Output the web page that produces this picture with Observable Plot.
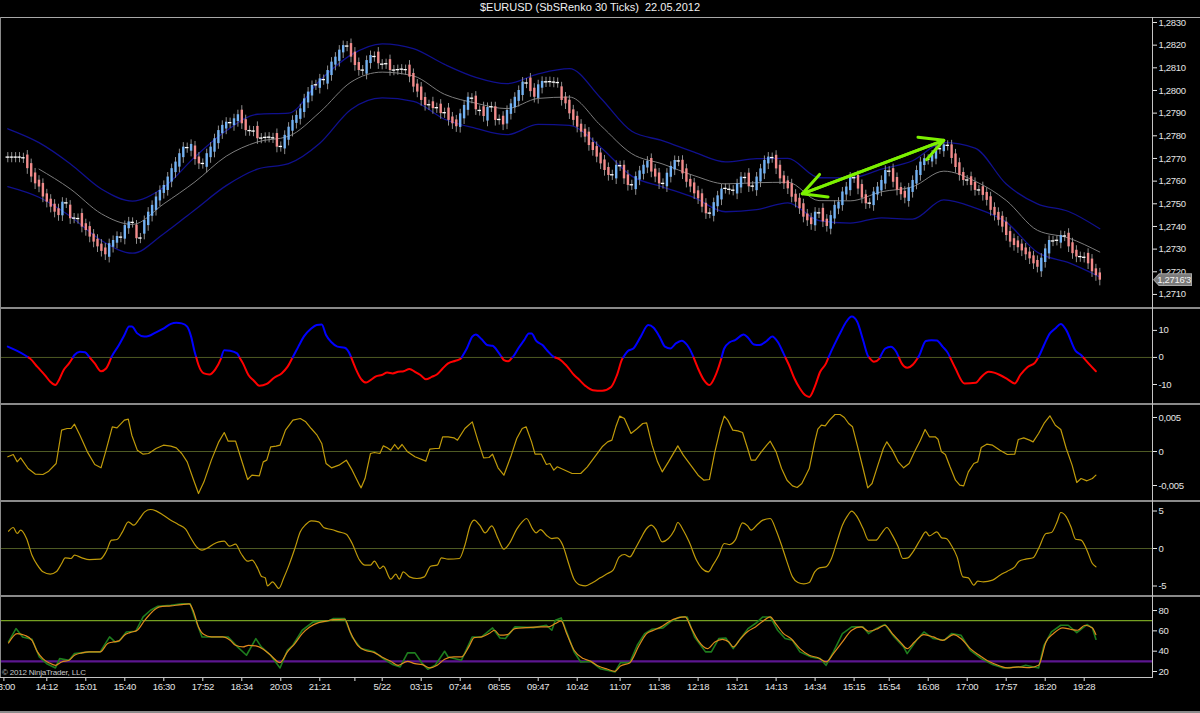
<!DOCTYPE html>
<html><head><meta charset="utf-8">
<script src="https://cdn.jsdelivr.net/npm/d3@7"></script>
<script src="https://cdn.jsdelivr.net/npm/@observablehq/plot@0.6"></script>
<style>
html,body{margin:0;padding:0;background:#000;}
#chart{position:relative;width:1200px;height:713px;background:#000;overflow:hidden;font-family:"Liberation Sans",Arial,sans-serif;}
.abs{position:absolute;}
.panel{position:absolute;left:0;}
.panel svg{display:block;}
</style></head>
<body><div id="chart"></div>
<script>
// ---------------- DATA ----------------
const title = "$EURUSD (SbSRenko 30 Ticks)  22.05.2012";
const copyright = "\u00a9 2012 NinjaTrader, LLC";
const BASE = 1.27; // closes are in pips above this price
const closes = [
70.6,70.6,70.6,70.6,70.3,65.5,61.8,58.8,57.4,53.0,
50.7,48.5,46.3,44.8,50.7,50.4,43.4,43.7,43.5,39.7,
38.2,35.3,33.1,31.0,29.0,27.5,32.4,33.8,35.6,35.3,
40.4,42.0,41.8,34.6,34.9,42.6,46.3,49.3,53.0,55.9,
58.1,61.8,65.5,68.4,72.1,75.0,74.8,76.2,69.5,67.6,
67.8,72.1,75.0,78.7,82.3,84.6,86.0,85.8,87.5,89.3,
85.3,82.3,82.3,82.1,78.7,79.0,79.3,79.4,79.1,75.0,
75.3,80.2,83.8,86.8,89.0,91.9,96.3,99.3,102.2,102.5,
105.1,104.8,108.8,112.5,114.7,117.8,119.8,119.6,114.7,111.0,
108.8,109.0,113.2,115.4,115.0,111.8,111.6,111.8,108.8,109.0,
109.2,109.4,109.2,105.9,101.5,99.3,95.6,93.4,93.7,92.0,
92.4,89.8,90.2,86.8,85.3,84.0,89.7,93.4,97.0,96.6,
91.5,91.2,88.5,92.5,92.8,86.8,87.2,84.8,91.2,94.1,
97.0,100.0,103.7,103.3,99.5,97.0,102.5,104.0,103.8,103.9,
103.7,103.5,95.6,94.1,89.7,86.8,83.8,81.6,79.4,75.7,
73.5,70.6,67.6,64.7,62.5,62.8,67.0,66.8,61.0,58.1,
58.4,62.0,64.5,67.0,68.8,64.0,61.8,58.8,59.0,63.5,
66.5,69.1,68.9,63.2,59.5,57.4,54.4,52.2,48.5,45.6,
45.9,50.5,53.5,56.5,56.8,56.4,56.0,58.8,61.8,61.6,
57.5,57.8,61.8,65.4,69.1,70.6,70.4,65.4,61.0,58.8,
56.6,52.9,50.7,47.8,44.1,42.5,40.8,46.3,46.0,42.0,
40.0,44.8,49.3,50.7,55.2,57.4,61.8,61.5,56.5,52.5,
50.0,50.3,55.2,57.4,60.3,64.7,64.4,59.5,56.0,54.0,
52.5,57.0,60.3,64.7,68.4,69.9,69.6,71.5,74.5,74.3,
76.0,75.8,70.0,66.0,62.5,60.3,60.5,58.1,55.9,56.1,
53.7,51.5,47.1,44.9,42.7,39.7,36.0,33.1,31.6,30.6,
29.2,27.5,25.7,23.5,22.0,26.0,30.1,33.8,33.6,33.9,
36.0,35.8,31.0,28.0,26.5,26.7,26.4,23.5,20.0,18.3,
16.3];
const bandBars   = [0,8,16,24,32,40,48,56,64,72,80,88,96,104,112,120,128,136,144,152,160,168,176,184,192,200,208,216,224,232,240,248,256,264,272,280];
const upperBand  = [83.1,77,67.7,56.5,51.2,57.3,70.7,82.2,89.5,90,104.4,115.7,120.6,118.5,111.5,105.8,103,107.3,109.6,96.7,82,77.8,72.8,68.5,69.9,70,61.5,61.4,65.3,69,77,74.6,58.7,50,46.6,39];
const middleBand = [null,65.3,56.6,45.6,40.9,50,59.7,71,77.3,79.8,90.4,103.7,108.1,106.4,98.3,94.4,92,96.5,97.1,84.6,72.1,67.5,62.4,58.8,59.3,59.5,51.4,51.3,55.3,57.5,64.4,60,51.5,38.3,34.9,28.7];
const lowerBand  = [57.6,52.9,44.5,33.8,28.2,36.8,47.4,58,65.3,67.7,76.7,91.6,96.7,95.2,87.3,83.3,80.5,85,84.6,75,62.2,57.4,52.7,46.5,47.4,50.4,42.6,41.5,43.8,43.2,51.7,48.2,41.9,28.6,24,17.7];
const arrowEnds = [[203.7,54.4],[240.0,78.0]]; // [bar, pips]

const cci = [[0,4.0],[2.4,2.4],[4.3,0.9],[5.7,-0.4],[7.6,-3.5],[9.5,-6.5],[10.9,-9.0],[12.2,-10.2],[13.1,-8.4],[14.3,-4.7],[15.7,-2.2],[17.1,0.9],[18.5,2.1],[19.8,1.9],[20.9,0.2],[22.3,-2.2],[23.9,-5.1],[25.2,-4.1],[26.6,0.2],[28.5,4.6],[29.9,8.3],[31.1,11.4],[31.8,11.4],[33.2,8.9],[35.0,7.7],[36.1,7.9],[38.0,9.3],[39.9,10.7],[41.8,12.4],[43.2,12.8],[44.6,12.6],[46.0,11.4],[47.0,7.7],[47.9,2.1],[48.9,-2.8],[50.3,-5.9],[51.7,-6.3],[53.2,-4.4],[54.6,-0.6],[55.5,2.7],[57.0,2.5],[58.8,1.5],[60.3,-2.2],[61.7,-6.5],[63.1,-8.6],[64.5,-10.5],[66.4,-9.8],[68.3,-7.5],[70.2,-5.9],[71.7,-3.5],[73.1,0.2],[74.5,4.0],[75.9,7.7],[77.8,10.7],[79.2,12.0],[80.5,12.2],[81.6,8.3],[83.0,5.6],[84.5,4.0],[86.4,3.6],[87.8,0.9],[89.2,-4.1],[90.6,-8.0],[91.9,-9.3],[93.0,-8.4],[94.4,-7.0],[95.9,-6.5],[97.3,-5.6],[98.7,-5.9],[100.1,-5.3],[101.5,-5.1],[103.0,-4.3],[104.4,-5.3],[105.8,-6.5],[107.2,-8.1],[108.7,-7.2],[110.1,-6.2],[111.5,-4.1],[112.9,-2.2],[114.8,-1.2],[116.2,-0.4],[117.7,3.3],[119.1,7.7],[120.0,8.5],[121.5,6.7],[122.9,4.6],[124.3,4.3],[125.7,2.1],[127.2,-1.0],[128.3,-1.4],[129.5,0.2],[131.0,3.6],[132.4,6.4],[133.6,8.9],[134.3,8.9],[135.5,6.1],[137.1,4.6],[138.4,2.4],[140.0,0.2],[141.4,-0.6],[143.3,-3.1],[145.2,-6.5],[146.2,-7.8],[148.1,-10.5],[150.0,-12.1],[152.4,-12.3],[154.7,-10.9],[156.2,-6.5],[157.6,-0.4],[159.0,2.4],[160.4,3.3],[162.3,7.7],[164.2,12.0],[165.6,11.0],[167.1,7.7],[168.5,4.0],[169.9,3.3],[171.3,5.2],[172.8,6.2],[174.2,4.6],[175.6,0.9],[177.0,-4.1],[178.5,-8.4],[179.9,-10.2],[181.3,-7.2],[182.7,-1.6],[183.7,3.3],[185.1,5.6],[186.5,6.4],[188.7,8.5],[189.8,7.3],[191.3,4.8],[192.7,4.6],[194.6,6.1],[196.0,7.7],[197.4,5.8],[198.9,1.5],[200.3,-2.8],[201.7,-7.8],[203.1,-11.5],[204.5,-14.0],[205.5,-14.6],[206.9,-10.9],[208.3,-5.3],[209.8,-2.2],[210.7,0.9],[212.1,5.2],[213.6,9.5],[215.0,13.2],[216.4,15.1],[217.8,13.2],[219.3,6.4],[220.7,0.2],[222.1,-1.6],[223.5,-0.4],[225.0,3.3],[226.4,4.0],[227.8,2.1],[229.2,-2.2],[230.6,-3.8],[232.1,-2.6],[233.5,0.2],[235.4,6.1],[236.8,6.4],[238.2,6.3],[239.7,4.0],[241.1,1.5],[243.0,-4.1],[245.3,-9.6],[248.2,-9.4],[249.6,-7.2],[251.5,-5.3],[252.9,-5.6],[254.4,-6.5],[256.3,-8.0],[258.2,-9.6],[259.6,-6.5],[261.5,-3.5],[263.4,-1.9],[264.3,0.2],[265.7,4.6],[267.2,8.9],[268.6,10.7],[270.0,12.4],[271.4,10.1],[273.8,2.4],[275.2,0.9],[277.1,-2.2],[279.0,-5.1]];

// thousandths
const osc1 = [[0,-0.78],[1.4,-0.44],[2.4,-1.52],[3.3,-0.93],[5.2,-2.5],[7.1,-3.33],[9.0,-3.38],[10.5,-2.89],[12.4,-1.76],[13.8,3.14],[15.2,3.38],[16.2,3.38],[17.1,4.02],[18.5,2.4],[20.4,-0.05],[22.3,-1.91],[23.9,-2.4],[25.2,0.2],[26.8,3.63],[28.0,3.48],[29.9,4.61],[30.9,4.76],[31.8,2.4],[33.2,0.2],[34.7,-0.39],[36.1,-0.29],[38.0,0.44],[39.9,0.93],[41.8,0.79],[43.2,0.54],[44.6,-0.29],[46.0,-1.52],[47.5,-3.97],[48.9,-6.18],[50.3,-4.46],[52.2,-1.27],[54.1,1.42],[55.5,2.79],[56.5,1.52],[58.4,1.52],[59.8,-1.03],[61.5,-4.12],[62.6,-3.48],[64.5,-3.58],[65.5,-1.52],[66.4,-1.27],[67.4,0.69],[68.8,0.79],[69.8,0.93],[71.2,3.14],[73.1,4.61],[75.0,4.85],[76.4,4.36],[77.8,3.38],[79.3,2.4],[80.5,1.18],[81.6,-1.76],[83.0,-2.4],[84.9,-2.01],[86.8,-1.27],[88.3,-2.74],[90.2,-4.95],[90.6,-5.34],[91.6,-3.97],[93.0,-0.29],[94.0,-0.15],[95.4,-0.29],[96.3,0.83],[97.3,0.54],[98.2,0.2],[99.2,1.03],[100.1,0.34],[101.1,1.03],[102.5,-0.05],[104.4,-0.78],[107.2,-1.42],[108.2,0.34],[109.6,0.44],[110.6,0.44],[111.5,2.16],[112.9,2.16],[114.4,2.01],[115.3,1.67],[117.2,3.38],[119.1,4.36],[120.5,1.67],[122.0,-0.93],[123.4,-0.88],[124.3,-0.39],[125.7,-2.4],[127.2,-3.48],[129.1,-0.54],[130.5,1.91],[131.9,3.38],[132.9,3.63],[134.3,1.42],[135.2,-0.39],[136.8,-0.39],[138.1,-1.91],[139.0,-1.76],[140.0,-2.74],[140.9,-2.25],[142.3,-2.6],[144.7,-3.23],[146.9,-3.23],[148.6,-2.25],[150.5,-0.78],[152.4,0.69],[153.8,1.42],[154.9,1.67],[155.9,3.63],[156.9,5.2],[158.1,4.85],[159.8,2.65],[161.4,3.38],[162.8,4.12],[163.8,4.22],[165.2,0.93],[166.6,-1.52],[167.8,-2.99],[169.4,-1.52],[170.9,-0.05],[171.8,0.83],[173.2,-0.54],[175.1,-2.01],[177.0,-3.48],[178.5,-4.22],[179.9,-4.12],[181.3,-0.05],[182.7,3.38],[183.7,5.2],[184.6,4.61],[185.9,3.14],[187.2,3.04],[188.4,2.79],[189.7,0.44],[190.6,-1.27],[191.7,-1.27],[193.2,-0.05],[194.6,0.93],[195.5,1.52],[197.0,-0.05],[198.4,-2.5],[199.8,-4.22],[201.2,-5.05],[202.4,-5.29],[203.6,-4.71],[205.5,-2.5],[206.9,1.42],[207.7,3.28],[208.6,3.87],[209.6,3.77],[210.7,4.61],[212.1,5.44],[213.4,5.44],[214.5,5.0],[215.6,4.12],[216.6,3.63],[217.8,0.93],[219.3,-2.5],[220.5,-5.34],[221.6,-4.71],[223.1,-2.01],[224.5,0.44],[225.4,1.42],[226.8,0.2],[228.3,-1.52],[229.7,-2.4],[231.1,-1.76],[232.5,-0.05],[234.0,1.67],[235.2,3.24],[236.3,2.16],[237.8,2.16],[238.5,1.81],[239.4,-0.05],[240.4,-0.44],[241.6,-2.25],[243.0,-4.22],[244.1,-4.95],[245.1,-5.05],[246.3,-2.99],[247.7,-1.76],[248.7,-1.52],[249.6,0.59],[251.0,1.08],[252.5,0.93],[254.4,0.2],[256.3,-0.44],[258.2,-0.39],[259.1,1.77],[260.5,2.01],[262.0,1.67],[262.9,1.42],[264.3,2.65],[265.7,4.12],[267.2,5.25],[268.6,3.87],[270.0,3.24],[271.4,0.44],[272.9,-2.01],[274.1,-4.56],[275.2,-3.97],[276.7,-4.31],[278.1,-3.97],[279.0,-3.48]];

const osc2 = [[0.2,2.31],[1.4,2.8],[2.4,2.0],[3.3,2.44],[4.8,1.33],[6.2,-0.89],[7.6,-2.22],[9.0,-3.11],[10.9,-3.42],[12.4,-3.11],[13.8,-2.0],[14.7,-1.24],[16.2,-1.33],[17.1,-0.89],[19.0,-1.24],[20.9,-1.47],[23.7,-1.42],[25.2,-0.44],[26.6,1.11],[28.0,1.2],[29.4,2.22],[30.9,3.56],[32.3,3.11],[33.7,3.91],[35.1,4.89],[36.6,5.2],[38.0,5.02],[39.9,4.44],[41.8,3.78],[43.7,3.2],[45.6,2.58],[47.0,1.33],[48.4,0.22],[49.8,-0.22],[51.3,0.09],[52.7,0.58],[54.1,0.89],[55.5,0.98],[56.8,0.31],[58.4,0.58],[59.8,-0.67],[61.5,-1.69],[62.6,-1.56],[64.1,-2.67],[65.0,-3.69],[66.0,-3.91],[66.6,-4.98],[67.9,-4.44],[69.5,-5.33],[70.7,-4.0],[72.1,-2.22],[73.6,0.0],[75.0,2.22],[76.4,3.2],[77.8,3.69],[79.7,3.56],[81.1,2.76],[83.0,2.53],[84.9,2.22],[86.8,1.91],[88.3,0.67],[90.2,-1.56],[91.6,-2.22],[93.0,-2.22],[94.0,-1.69],[95.4,-2.67],[96.3,-2.36],[98.2,-4.09],[99.5,-3.42],[100.4,-4.09],[101.4,-3.11],[103.0,-3.78],[104.9,-4.0],[106.8,-3.78],[108.4,-2.36],[110.1,-2.22],[111.2,-1.24],[112.9,-1.42],[115.8,-1.33],[117.2,0.44],[118.6,3.11],[119.6,3.78],[121.0,3.11],[122.4,2.09],[124.1,3.02],[125.7,1.33],[127.2,-0.09],[128.6,0.67],[130.5,2.58],[131.9,3.56],[133.0,4.0],[134.6,2.58],[135.5,2.09],[136.6,2.53],[138.1,1.78],[139.5,1.33],[140.9,1.42],[142.3,0.44],[143.8,-2.0],[145.2,-4.09],[146.9,-4.89],[148.1,-4.98],[150.0,-4.53],[151.9,-3.91],[153.8,-3.33],[155.2,-2.89],[156.8,-1.11],[158.1,-0.8],[159.5,-1.11],[160.9,0.0],[162.3,1.33],[163.8,2.67],[165.0,3.11],[166.1,2.58],[167.8,0.89],[169.4,1.33],[170.9,2.44],[171.8,3.47],[173.2,2.44],[174.7,0.89],[176.6,-1.56],[178.0,-2.67],[179.6,-3.11],[180.8,-2.22],[182.3,-0.89],[183.7,0.67],[185.1,0.53],[186.5,1.11],[188.4,3.42],[189.7,3.02],[190.6,2.44],[192.2,3.2],[193.6,3.78],[195.5,4.0],[197.0,2.44],[198.4,0.44],[199.8,-1.78],[201.2,-3.78],[202.6,-4.53],[204.1,-4.71],[205.5,-4.53],[206.9,-3.11],[208.1,-2.58],[209.8,-2.44],[211.2,-1.33],[212.6,0.89],[214.0,3.11],[215.3,4.36],[216.4,4.98],[217.5,4.44],[219.3,2.67],[220.7,1.11],[222.6,1.11],[224.0,2.0],[225.4,2.8],[226.8,1.78],[228.3,0.22],[229.5,-1.33],[230.8,-1.24],[232.1,-0.44],[234.0,1.2],[235.4,2.22],[236.3,1.69],[238.2,2.22],[239.5,1.42],[240.6,1.33],[242.0,0.36],[243.4,-1.11],[244.9,-3.78],[246.3,-3.91],[247.7,-4.89],[248.7,-4.36],[250.1,-4.44],[252.5,-4.22],[254.4,-3.56],[256.3,-3.02],[258.2,-2.44],[259.3,-1.69],[261.0,-1.42],[262.9,-1.24],[264.3,0.0],[266.2,2.0],[267.6,2.13],[269.1,3.64],[270.0,4.8],[271.4,4.22],[272.6,2.89],[273.8,1.24],[275.2,1.11],[276.7,-0.22],[278.1,-2.0],[279.0,-2.44]];

const stochSlow = [[0.2,48.1],[2.4,57.3],[4.3,55.7],[6.2,50.7],[7.6,39.3],[9.0,32.7],[10.5,28.7],[12.2,26.1],[13.8,29.4],[15.7,31.0],[17.1,36.0],[19.0,38.3],[20.9,39.3],[23.7,39.3],[25.6,47.5],[27.1,49.1],[28.5,50.1],[29.9,55.7],[31.3,58.3],[33.2,60.6],[35.1,70.4],[37.0,78.6],[38.9,83.6],[41.8,84.6],[44.6,85.9],[46.5,86.5],[47.5,80.3],[48.9,63.9],[50.3,56.3],[52.2,54.0],[55.1,54.0],[57.0,50.7],[58.4,45.8],[60.3,44.2],[61.7,45.8],[63.6,45.2],[65.5,41.9],[67.4,36.0],[69.8,28.7],[71.7,39.3],[73.6,47.5],[75.5,57.3],[77.4,63.9],[79.7,68.1],[81.6,69.5],[83.5,71.1],[86.4,71.4],[87.8,58.9],[89.7,45.8],[91.6,40.9],[94.0,38.6],[95.9,34.3],[98.2,30.0],[100.1,26.1],[102.5,30.0],[104.4,27.7],[106.3,26.8],[108.2,23.5],[110.1,26.1],[112.0,32.0],[114.4,34.3],[116.3,34.3],[118.2,44.2],[119.6,53.4],[121.5,54.0],[123.4,57.3],[124.8,60.6],[126.2,55.7],[128.1,56.3],[130.0,62.2],[132.9,63.2],[136.6,63.9],[138.5,63.9],[140.4,67.2],[141.9,69.8],[143.3,57.3],[145.2,40.9],[147.6,32.7],[149.5,30.0],[151.4,25.4],[153.8,22.2],[155.7,20.2],[157.1,25.4],[159.5,28.7],[161.9,45.8],[163.8,57.3],[165.6,60.6],[167.5,63.9],[169.4,68.8],[171.8,72.7],[173.7,73.7],[175.1,63.9],[177.0,50.7],[179.4,42.5],[181.3,49.1],[183.2,51.7],[184.9,49.1],[186.0,44.2],[187.9,52.4],[189.8,59.6],[191.7,63.9],[193.6,69.5],[195.5,73.7],[196.9,67.2],[198.9,57.3],[200.8,52.4],[203.1,42.5],[205.5,36.0],[207.9,33.3],[209.8,29.4],[211.7,37.6],[214.0,49.1],[216.4,60.6],[218.8,63.9],[220.7,59.6],[223.1,62.2],[224.9,65.5],[226.8,57.3],[229.2,47.5],[230.6,42.5],[232.5,49.1],[234.9,56.3],[237.3,54.0],[239.7,50.7],[242.5,56.3],[244.4,52.4],[246.8,42.5],[249.1,36.0],[251.5,30.0],[254.4,25.4],[256.3,23.5],[259.1,24.5],[262.0,23.8],[264.3,26.1],[266.2,49.1],[268.1,57.3],[270.5,62.9],[272.4,61.6],[274.3,60.6],[276.2,65.5],[278.1,62.9],[279.0,56.3]];

const stochFast = [[0.2,49.1],[2.1,62.2],[3.8,54.0],[6.2,51.7],[8.1,34.3],[10.0,27.7],[12.2,23.5],[13.3,32.7],[15.7,31.0],[17.1,37.6],[20.9,39.3],[23.7,39.3],[26.1,54.0],[27.5,49.1],[28.5,49.7],[30.4,58.9],[32.8,59.6],[34.7,73.7],[36.6,80.3],[38.5,84.2],[41.8,85.2],[44.6,86.5],[46.8,86.5],[48.2,70.4],[49.8,54.0],[56.5,54.0],[58.9,44.2],[61.2,36.0],[63.6,52.4],[65.0,44.2],[67.4,36.0],[69.8,23.5],[71.7,40.9],[73.1,45.8],[75.5,60.6],[78.3,68.8],[82.1,69.5],[83.5,72.1],[86.4,72.1],[88.3,54.0],[90.6,42.5],[94.0,39.3],[96.3,32.7],[98.7,26.8],[100.6,24.5],[102.5,38.3],[104.4,38.3],[106.3,27.7],[107.7,22.2],[109.6,26.1],[112.0,39.9],[112.9,34.3],[116.3,31.0],[119.1,54.0],[121.5,54.0],[124.3,62.9],[126.2,53.0],[127.6,52.4],[130.0,63.9],[134.8,63.2],[138.1,65.5],[139.5,60.6],[140.4,70.4],[141.9,72.7],[143.3,58.9],[145.2,39.3],[146.9,29.4],[149.5,30.0],[151.9,22.8],[155.7,19.5],[157.1,28.7],[159.5,28.7],[161.4,45.8],[163.3,57.3],[165.2,61.6],[168.0,62.9],[169.9,68.8],[172.3,73.7],[174.2,73.7],[176.1,54.0],[178.9,39.3],[180.4,39.3],[182.3,52.4],[184.1,53.0],[186.0,42.5],[187.9,52.4],[189.8,62.2],[191.7,67.2],[193.6,73.7],[195.5,73.7],[197.4,60.6],[199.3,52.4],[201.2,50.7],[203.1,39.3],[206.0,34.3],[208.3,32.7],[209.8,26.1],[211.7,39.3],[214.0,57.3],[216.4,63.9],[219.3,63.9],[220.7,57.3],[222.6,62.2],[224.9,66.2],[227.3,54.0],[229.7,44.2],[230.6,37.6],[233.0,50.7],[234.9,58.9],[237.3,52.4],[240.1,50.7],[242.0,57.3],[244.4,55.7],[246.8,40.9],[249.6,32.7],[252.5,26.8],[255.3,23.5],[259.6,24.5],[261.0,26.1],[264.3,23.5],[265.7,45.8],[267.6,58.9],[270.0,65.5],[271.9,65.5],[274.1,58.3],[276.7,66.2],[278.1,62.9],[279.0,51.7]];
const stochLevels = [70, 30];

const priceTicks = [1.2710,1.2720,1.2730,1.2740,1.2750,1.2760,1.2770,1.2780,1.2790,1.2800,1.2810,1.2820,1.2830];
const cciTicks = [10,0,-10];
const osc1Ticks = [0.005,0,-0.005];
const osc2Ticks = [5,0,-5];
const stochTicks = [80,60,40,20];
const timeTickBars = [-1,10,20,30,40,50,60,70,80,89,96,106,116,126,136,146,157,167,177,187,197,207,217,226,236,246,256,266,276];
const timeTickLabels = ["13:00","14:12","15:01","15:40","16:30","17:52","18:34","20:03","21:21","","5/22","03:15","07:44","08:55","09:47","10:42","11:07","11:38","12:18","13:21","14:13","14:34","15:15","15:54","16:08","17:00","17:57","18:20","19:28"];

// ---------------- LAYOUT ----------------
const W = 1200, AXIS_X = 1152, FIRST_BAR_PX = 7.3, BAR_STEP = 3.9;
const xDomain = [(1 - FIRST_BAR_PX) / BAR_STEP, (AXIS_X - FIRST_BAR_PX) / BAR_STEP];
const FONT = "'Liberation Sans', Arial, sans-serif";
const TXT = "#e4e4e4";
const chart = document.getElementById("chart");

function addDiv(css, text) {
  const d = document.createElement("div");
  d.className = "abs";
  d.style.cssText = css;
  if (text != null) d.textContent = text;
  chart.appendChild(d);
  return d;
}
function place(svg, top) {
  const wrap = document.createElement("div");
  wrap.className = "panel";
  wrap.style.top = top + "px";
  wrap.appendChild(svg);
  chart.appendChild(wrap);
}
const P = v => BASE + v / 1e4;
const common = (height, yDomain, marks, extra = {}) => Plot.plot({
  width: W, height,
  marginLeft: 1, marginRight: W - AXIS_X, marginTop: 0, marginBottom: extra.marginBottom || 0,
  x: {domain: xDomain, axis: null},
  y: {domain: yDomain, axis: null},
  color: {type: "identity"},
  style: `background:transparent;color:${TXT};font-family:${FONT};font-size:9.5px;letter-spacing:-0.3px;overflow:visible;`,
  marks
});
const yAxis = (ticks, fmt) => Plot.axisY({ticks, anchor: "right", label: null, tickFormat: fmt, tickSize: 4, tickPadding: 2, color: TXT});

// ---------------- TITLE ----------------
addDiv(`left:590px;top:1px;transform:translateX(-50%);color:#f0f0f0;font-size:11px;white-space:pre;font-family:${FONT};`, title);

// ---------------- MAIN PRICE PANEL ----------------
const candles = closes.map((c, i) => {
  const d = i === 0 ? 0 : c - closes[i - 1];
  let open = c, kind = "doji";
  if (Math.abs(d) >= 0.6) {
    const body = Math.min(6, Math.max(3, 1.6 * Math.abs(d)));
    open = c - Math.sign(d) * body;
    kind = d > 0 ? "up" : "down";
  }
  return {i, open: P(open), close: P(c), high: P(Math.max(open, c) + 2), low: P(Math.min(open, c) - 2.5), kind};
});
const bands = bandBars.map((b, k) => ({bar: b, up: P(upperBand[k]), mid: middleBand[k] == null ? NaN : P(middleBand[k]), lo: P(lowerBand[k])}));
const [a0, a1] = arrowEnds;
const arrows = [
  {x1: a0[0], y1: P(a0[1]), x2: a1[0], y2: P(a1[1])},
  {x1: a1[0], y1: P(a1[1]), x2: a0[0], y2: P(a0[1])}
];
const mainPlot = common(291, [P(3.8), P(132.2)], [
  Plot.line(bands, {x: "bar", y: "up", stroke: "#10108e", strokeWidth: 1.3, curve: "monotone-x"}),
  Plot.line(bands, {x: "bar", y: "lo", stroke: "#10108e", strokeWidth: 1.3, curve: "monotone-x"}),
  Plot.line(bands, {x: "bar", y: "mid", stroke: "#7c7c7c", strokeWidth: 1, curve: "monotone-x"}),
  Plot.ruleX(candles, {x: "i", y1: "low", y2: "high", stroke: "#8e8e8e", strokeWidth: 1}),
  Plot.ruleX(candles.filter(d => d.kind !== "doji"), {x: "i", y1: "open", y2: "close", stroke: d => d.kind === "up" ? "#74b2f2" : "#f28c8c", strokeWidth: 2.4}),
  Plot.ruleY(candles.filter(d => d.kind === "doji"), {y: "close", x1: d => d.i - 0.45, x2: d => d.i + 0.45, stroke: "#ffffff", strokeWidth: 1.3}),
  Plot.arrow(arrows, {x1: "x1", y1: "y1", x2: "x2", y2: "y2", stroke: "#7cf000", strokeWidth: 3, headLength: 13, headAngle: 55}),
  yAxis(priceTicks, d => d.toFixed(4).replace(".", ","))
]);
place(mainPlot, 17);

// last price marker
const lastClose = P(closes[closes.length - 1]);
const lastY = 17 + mainPlot.scale("y").apply(lastClose);
const lp = lastClose.toFixed(5).replace(".", ",");
addDiv(`left:${AXIS_X + 1}px;top:${lastY - 6.5}px;width:39px;height:13px;background:#a6a6a6;clip-path:polygon(0 50%,6px 0,100% 0,100% 100%,6px 100%);`);
addDiv(`left:${AXIS_X + 2}px;top:${lastY - 5.5}px;width:37px;height:11px;background:#7a7a7a;clip-path:polygon(0 50%,5.5px 0,100% 0,100% 100%,5.5px 100%);color:#f2f2f2;font-size:9.5px;line-height:11px;text-align:right;letter-spacing:-0.3px;font-family:${FONT};`, lp.slice(0, -1) + "'" + lp.slice(-1));

// ---------------- CCI PANEL ----------------
function splitBySign(pts) {
  const out = []; let run = 0;
  pts.forEach(([x, v], k) => {
    if (k > 0) {
      const [px, pv] = pts[k - 1];
      if ((pv >= 0) !== (v >= 0)) {
        const cx = px + (pv / (pv - v)) * (x - px);
        out.push({x: cx, y: 0, run, pos: pv >= 0});
        run++;
        out.push({x: cx, y: 0, run, pos: v >= 0});
      }
    }
    out.push({x, y: v, run, pos: v >= 0});
  });
  return out;
}
const zeroLine = Plot.ruleY([0], {stroke: "#4e5a24", strokeWidth: 1});
place(common(96, [-17.4, 18.1], [
  zeroLine,
  Plot.line(splitBySign(cci), {x: "x", y: "y", z: "run", stroke: d => d.pos ? "#0000ff" : "#ff0000", strokeWidth: 2, curve: "monotone-x"}),
  yAxis(cciTicks, d => String(d))
]), 308);

// ---------------- OSC 1 ----------------
place(common(97, [-0.00735, 0.00691], [
  zeroLine,
  Plot.line(osc1, {x: d => d[0], y: d => d[1] / 1000, stroke: "#bf9a0a", strokeWidth: 1.2}),
  yAxis(osc1Ticks, d => d === 0 ? "0" : d.toFixed(3).replace(".", ","))
]), 404);

// ---------------- OSC 2 ----------------
place(common(95, [-6.4, 6.27], [
  zeroLine,
  Plot.line(osc2, {x: d => d[0], y: d => d[1], stroke: "#bf9a0a", strokeWidth: 1.2, curve: "monotone-x"}),
  yAxis(osc2Ticks, d => String(d))
]), 501);

// ---------------- STOCHASTICS ----------------
const labelMap = new Map(timeTickBars.map((b, k) => [b, timeTickLabels[k]]));
place(common(117, [14.1, 93.8], [
  Plot.ruleY([stochLevels[0]], {stroke: "#76a022", strokeWidth: 1.2}),
  Plot.ruleY([stochLevels[1]], {stroke: "#5c1690", strokeWidth: 2.2}),
  Plot.line(stochFast, {x: d => d[0], y: d => d[1], stroke: "#1e7d1e", strokeWidth: 1.6}),
  Plot.line(stochSlow, {x: d => d[0], y: d => d[1], stroke: "#e0891c", strokeWidth: 1.2, curve: "monotone-x"}),
  yAxis(stochTicks, d => String(d)),
  Plot.axisX({ticks: timeTickBars, anchor: "bottom", label: null, tickFormat: d => labelMap.get(d), tickSize: 4, tickPadding: 2, color: TXT})
], {marginBottom: 36}), 596);

// ---------------- FRAME LINES ----------------
addDiv(`left:0;top:17px;width:${W}px;height:1px;background:#a8a8a8;`);
[308, 404, 501, 596].forEach(y => addDiv(`left:0;top:${y - 1}px;width:${W}px;height:2px;background:#8a8a8a;`));
addDiv(`left:${AXIS_X}px;top:17px;width:1px;height:661px;background:#c4c4c4;`);
addDiv(`left:0;top:17px;width:1px;height:661px;background:#8a8a8a;`);
addDiv(`left:0;top:677px;width:${AXIS_X + 1}px;height:1px;background:#c4c4c4;`);
addDiv(`left:0;top:711px;width:${W}px;height:2px;background:#8a8a8a;`);
addDiv(`left:2px;top:668px;color:#c8c8c8;font-size:8px;letter-spacing:-0.2px;font-family:${FONT};`, copyright);
</script>
</body></html>
